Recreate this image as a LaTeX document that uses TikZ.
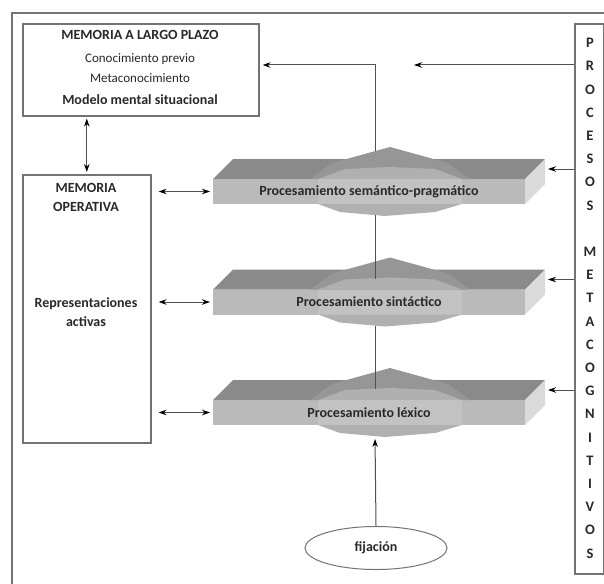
\documentclass[tikz,border=0pt]{standalone}
\usepackage{fontspec}
\setmainfont{Carlito}
\usetikzlibrary{arrows.meta,shapes.geometric}
\definecolor{topc}{RGB}{138,138,138}
\definecolor{sidec}{RGB}{218,218,218}
\definecolor{frontc}{RGB}{186,186,186}
\definecolor{roofc}{RGB}{150,150,150}
\definecolor{innerc}{RGB}{176,176,176}
\definecolor{bumpc}{RGB}{194,194,194}
\definecolor{botc}{RGB}{176,176,176}
\definecolor{linec}{RGB}{80,80,80}
\definecolor{framec}{RGB}{115,115,115}
\definecolor{textc}{RGB}{40,40,45}
\tikzset{
  box/.style={draw=framec, line width=1.6pt, fill=white, inner sep=0pt},
  txt/.style={text=textc, inner sep=0pt, font=\fontsize{13}{15}\selectfont},
  btxt/.style={text=textc, inner sep=0pt, font=\fontsize{14}{16}\selectfont\bfseries},
  vletter/.style={text=textc, inner sep=0pt, font=\fontsize{14.5}{16}\selectfont\bfseries},
  conn/.style={draw=linec, line width=1pt},
  arr/.style={conn, -{Stealth[length=8pt,width=5.5pt,color=black]}},
  darr/.style={conn, {Stealth[length=8pt,width=5.5pt,color=black]}-{Stealth[length=8pt,width=5.5pt,color=black]}},
}
\newcommand\slabdraw[3]{%
  \fill[topc] (213,#2) -- (233,#2-20) -- (545,#2-20) -- (525,#2) -- cycle;
  \fill[sidec] (525,#2) -- (545,#2-20) -- (545,#2+5) -- (525,#2+25) -- cycle;
  \fill[frontc] (213,#2) rectangle (525,#2+25);
  \fill[roofc] (310,#2) -- (332,#2-16) -- (390,#2-32) -- (448,#2-16) -- (470,#2) -- cycle;
  \fill[innerc] (318,#2) -- (345,#2-10) -- (390,#2-12) -- (435,#2-10) -- (462,#2) -- cycle;
  \fill[bumpc] (318,#2) -- (462,#2) -- (462,#2+25) -- (318,#2+25) -- cycle;
  \fill[botc] (318,#2+25) -- (340,#2+33) -- (385,#2+37) -- (435,#2+33) -- (462,#2+25) -- cycle;
  \node[btxt] (#1) at (369,#2+12.5) {#3};
  \coordinate (#1-in) at (213,#2+12.5);
  \coordinate (#1-side) at (548,#2-10);
  \coordinate (#1-peak) at (375,#2-28);
  \coordinate (#1-top) at (375,#2-11);
  \coordinate (#1-bot) at (375,#2+36);
}
\begin{document}
\begin{tikzpicture}[x=1pt,y=-1pt]
\useasboundingbox (0,0) rectangle (604,583);
\fill[white] (0,0) rectangle (604,583);
% outer frame (cropped)
\draw[framec, line width=1.4pt] (12,590) -- (12,13) -- (610,13);

% long-term memory
\node[box, minimum width=236pt, minimum height=92pt, anchor=north west] (ltm) at (22,23) {};
\node[btxt] (ltm1) at (140,35) {MEMORIA A LARGO PLAZO};
\node[txt] (ltm2) at (140,59) {Conocimiento previo};
\node[txt] (ltm3) at (140,78) {Metaconocimiento};
\node[btxt] (ltm4) at (140,100) {Modelo mental situacional};

% working memory
\node[box, minimum width=128pt, minimum height=268pt, anchor=north west] (wm) at (22,174) {};
\node[btxt] (wm1) at (86,188) {MEMORIA};
\node[btxt] (wm2) at (86,207) {OPERATIVA};
\node[btxt] (wm3) at (86,304) {Representaciones};
\node[btxt] (wm4) at (86,322) {activas};

% metacognitive processes
\node[box, minimum width=29pt, minimum height=550pt, anchor=north west] (proc) at (574,23) {};
\foreach \l [count=\i from 0] in {P,R,O,C,E,S,O,S}
  \node[vletter] (pa\i) at (590,{43+\i*23.2}) {\l};
\foreach \l [count=\i from 9] in {M,E,T,A,C,O,G,N,I,T,I,V,O,S}
  \node[vletter] (pb\i) at (590,{43+\i*23.2}) {\l};

% slabs
\slabdraw{sem}{179}{Procesamiento semántico-pragmático}
\slabdraw{syn}{289.5}{Procesamiento sintáctico}
\slabdraw{lex}{400}{Procesamiento léxico}

% fixation
\node[ellipse, draw=framec, line width=1pt, minimum width=142pt, minimum height=43pt, inner sep=0pt, btxt] (fij) at (376,548) {fijación};

% connectors
\coordinate (corner) at (375,65);
\coordinate (rt) at (414,65);
\draw[arr, shorten >=3pt] (sem-peak) -- (corner) -- (corner -| ltm.east);
\draw[arr] (proc.west |- rt) -- (rt);
\draw[darr, shorten <=2pt, shorten >=2pt] (wm.north |- ltm.south) -- (wm.north);
\draw[conn] (sem-bot) -- (syn-top);
\draw[conn] (syn-bot) -- (lex-top);
\draw[arr, shorten >=3pt] (fij.north) -- (lex-bot);
\foreach \s in {sem,syn,lex}{
  \draw[darr, shorten <=7pt, shorten >=3pt] (wm.east |- \s-in) -- (\s-in);
  \draw[arr] (proc.west |- \s-side) -- (\s-side);
}
\end{tikzpicture}
\end{document}
